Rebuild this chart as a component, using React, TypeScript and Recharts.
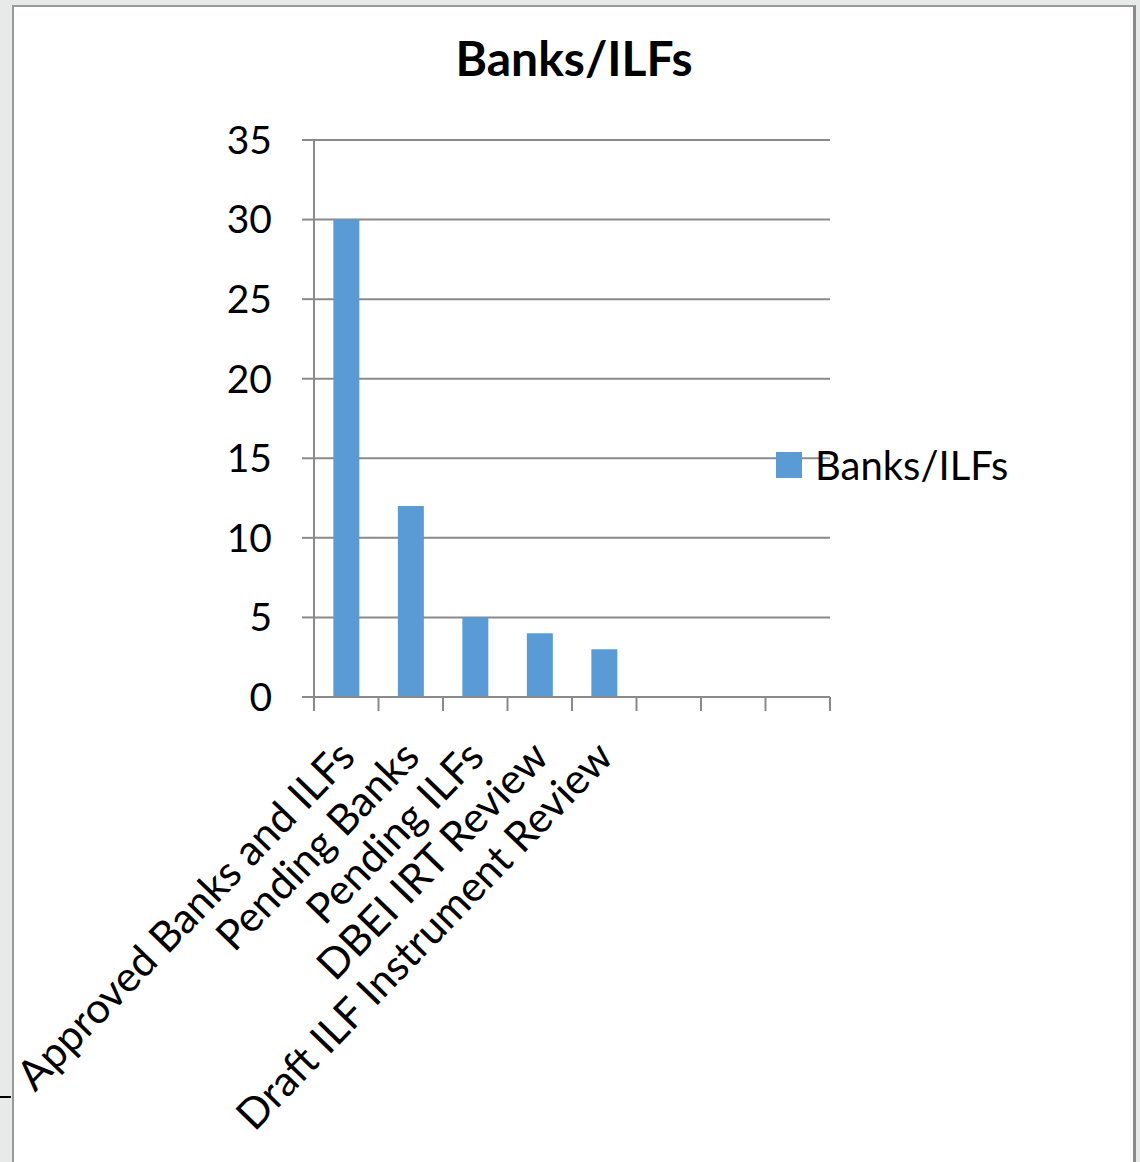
import React from 'react';
import { BarChart, Bar, XAxis, YAxis, CartesianGrid, Legend } from 'recharts';

const categories = [
  'Approved Banks and ILFs',
  'Pending Banks',
  'Pending ILFs',
  'DBEI IRT Review',
  'Draft ILF Instrument Review',
  '',
  '',
  '',
];
const seriesValues: (number | null)[] = [30, 12, 5, 4, 3, null, null, null];
const yTicks = [0, 5, 10, 15, 20, 25, 30, 35];
const seriesName = 'Banks/ILFs';
const chartTitle = 'Banks/ILFs';

const data = categories.map((name, i) => ({ name, value: seriesValues[i] }));

const FONT = 'Lato, "Open Sans", sans-serif';
const GRID = '#8a8a8a';

const CategoryTick = (props: any) => {
  const { x, y, payload, index } = props;
  const half = payload && typeof payload.offset === 'number' && payload.offset > 0 ? payload.offset : 32.25;
  const isLast = index === categories.length - 1;
  const ax = x + 11;
  const ay = y + 62;
  return (
    <g>
      <line x1={x - half} y1={y} x2={x - half} y2={y + 14} stroke={GRID} strokeWidth={2} />
      {isLast && <line x1={x + half} y1={y} x2={x + half} y2={y + 14} stroke={GRID} strokeWidth={2} />}
      {payload.value ? (
        <text
          x={ax}
          y={ay}
          textAnchor="end"
          transform={`rotate(-46, ${ax}, ${ay})`}
          fontFamily={FONT}
          fontSize={42}
          fill="#000"
        >
          {payload.value}
        </text>
      ) : null}
    </g>
  );
};

const LegendContent = () => (
  <div style={{ display: 'flex', alignItems: 'center', fontFamily: FONT, fontSize: 40, color: '#000', whiteSpace: 'nowrap', width: 0, height: 0, overflow: 'visible' }}>
    <div style={{ display: 'flex', alignItems: 'center', position: 'absolute', left: 0, top: 0 }}>
      <span style={{ display: 'inline-block', width: 26, height: 26, background: '#5B9BD5', marginRight: 13 }} />
      <span>{seriesName}</span>
    </div>
  </div>
);

export default function App() {
  return (
    <div style={{ position: 'absolute', left: 0, top: 0, width: 1140, height: 1162, background: '#e8eae9', overflow: 'hidden' }}>
      <div
        style={{
          position: 'absolute',
          left: 12,
          top: 5,
          width: 1119,
          height: 1200,
          background: '#fff',
          borderTop: '2px solid #9a9a9a',
          borderLeft: '2px solid #9a9a9a',
          borderRight: '3px solid #8a8a8a',
        }}
      />
      <div style={{ position: 'absolute', left: 0, top: 1096, width: 11, height: 2, background: '#000' }} />
      <div
        style={{
          position: 'absolute',
          left: 0,
          width: 1148,
          top: 29,
          textAlign: 'center',
          fontFamily: FONT,
          fontWeight: 700,
          fontSize: 48,
          color: '#000',
        }}
      >
        {chartTitle}
      </div>
      <div style={{ position: 'absolute', left: 0, top: 0 }}>
        <BarChart
          width={1140}
          height={1162}
          data={data}
          margin={{ top: 140, right: 310, bottom: 0, left: 0 }}
          barCategoryGap="30%"
        >
          <CartesianGrid horizontal vertical={false} stroke={GRID} strokeWidth={2} />
          <XAxis
            dataKey="name"
            height={465}
            axisLine={{ stroke: GRID, strokeWidth: 2 }}
            tickLine={false}
            tickSize={0}
            tickMargin={0}
            interval={0}
            tick={<CategoryTick />}
          />
          <YAxis
            width={314}
            domain={[0, 35]}
            ticks={yTicks}
            interval={0}
            axisLine={{ stroke: GRID, strokeWidth: 2 }}
            tickLine={{ stroke: GRID, strokeWidth: 2 }}
            tickSize={12}
            tickMargin={30}
            tick={{ fontFamily: FONT, fontSize: 39, fill: '#000' }}
          />
          <Legend
            layout="horizontal"
            align="right"
            verticalAlign="middle"
            content={<LegendContent />}
            wrapperStyle={{ position: 'absolute', left: 776, top: 441, width: 0, height: 0, right: 'auto', bottom: 'auto' }}
          />
          <Bar dataKey="value" name={seriesName} fill="#5B9BD5" isAnimationActive={false} />
        </BarChart>
      </div>
    </div>
  );
}
